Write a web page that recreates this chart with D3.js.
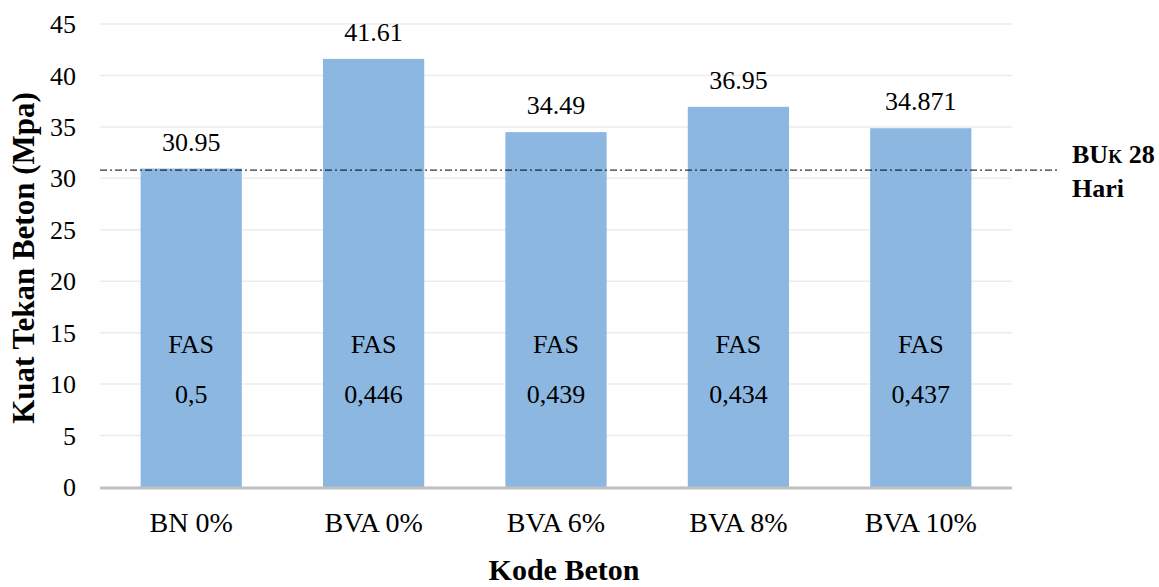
<!DOCTYPE html>
<html><head><meta charset="utf-8">
<script src="https://cdn.jsdelivr.net/npm/d3@7"></script>
<style>body{margin:0;background:#fff}svg{display:block}svg text{font-family:"Liberation Serif","Times New Roman",serif !important}</style>
</head><body>
<svg id="c" width="1159" height="587"></svg>
<script>
const categories = ["BN 0%","BVA 0%","BVA 6%","BVA 8%","BVA 10%"];
const values = [30.95,41.61,34.49,36.95,34.871];
const valueLabels = ["30.95","41.61","34.49","36.95","34.871"];
const fasLabels = ["0,5","0,446","0,439","0,434","0,437"];
const yTicks = [0,5,10,15,20,25,30,35,40,45];
const refValue = 30.8;

const svg = d3.select("#c");
const m = {l:100, r:1012, t:24, b:487};
const x = d3.scaleBand().domain(categories).range([m.l,m.r]).paddingInner(0.445).paddingOuter(0.2225);
const y = d3.scaleLinear().domain([0,45]).range([m.b,m.t]);
const F = "Liberation Serif";

// gridlines
svg.append("g").selectAll("line").data(yTicks.filter(d=>d>0)).join("line")
  .attr("x1",m.l).attr("x2",m.r).attr("y1",d=>y(d)).attr("y2",d=>y(d))
  .attr("stroke","#ececec").attr("stroke-width",1.5);

// y tick labels
const yAxis = d3.axisLeft(y).tickValues(yTicks).tickSize(0).tickPadding(0);
const ya = svg.append("g").attr("transform",`translate(76,0)`).call(yAxis).attr("font-family",F);
ya.select(".domain").remove();
ya.selectAll("text").attr("font-size",26).attr("fill","#000").attr("dy","0.33em");

// bars
svg.append("g").selectAll("rect").data(values).join("rect")
  .attr("x",(d,i)=>x(categories[i])).attr("width",x.bandwidth())
  .attr("y",d=>y(d)).attr("height",d=>y(0)-y(d)).attr("fill","#8cb7e1");

// x axis line
svg.append("line").attr("x1",m.l).attr("x2",m.r).attr("y1",y(0)+1).attr("y2",y(0)+1)
  .attr("stroke","#bfbfbf").attr("stroke-width",3);

// x labels
const xAxis = d3.axisBottom(x).tickSize(0).tickPadding(0);
const xa = svg.append("g").attr("transform",`translate(0,532)`).call(xAxis).attr("font-family",F);
xa.select(".domain").remove();
xa.selectAll("text").attr("font-size",28).attr("fill","#000").attr("dy",0).attr("y",0);

// value labels
svg.append("g").selectAll("text").data(values).join("text")
  .attr("x",(d,i)=>x(categories[i])+x.bandwidth()/2).attr("y",d=>y(d)-18)
  .attr("text-anchor","middle").attr("font-size",26).text((d,i)=>valueLabels[i]);

// FAS labels
svg.append("g").selectAll("text").data(categories).join("text")
  .attr("x",d=>x(d)+x.bandwidth()/2).attr("y",353)
  .attr("text-anchor","middle").attr("font-size",26).text("FAS");
svg.append("g").selectAll("text").data(fasLabels).join("text")
  .attr("x",(d,i)=>x(categories[i])+x.bandwidth()/2).attr("y",403)
  .attr("text-anchor","middle").attr("font-size",26).text(d=>d);

// reference line
svg.append("line").attr("x1",m.l).attr("x2",1058).attr("y1",y(refValue)).attr("y2",y(refValue))
  .attr("stroke","#000").attr("stroke-width",1).attr("stroke-dasharray","7,3,2,3");
const rl = svg.append("text").attr("x",1072).attr("y",163).attr("font-size",26).attr("font-weight","bold");
rl.append("tspan").text("BU");
rl.append("tspan").attr("font-size",18).text("K");
rl.append("tspan").text(" 28");
svg.append("text").attr("x",1072).attr("y",197).attr("font-size",26).attr("font-weight","bold").text("Hari");

// axis titles
svg.append("text").attr("transform","translate(34,258) rotate(-90)").attr("text-anchor","middle")
  .attr("font-size",31).attr("font-weight","bold").text("Kuat Tekan Beton (Mpa)");
svg.append("text").attr("x",564).attr("y",580).attr("text-anchor","middle")
  .attr("font-size",30).attr("font-weight","bold").text("Kode Beton");
</script>
</body></html>
